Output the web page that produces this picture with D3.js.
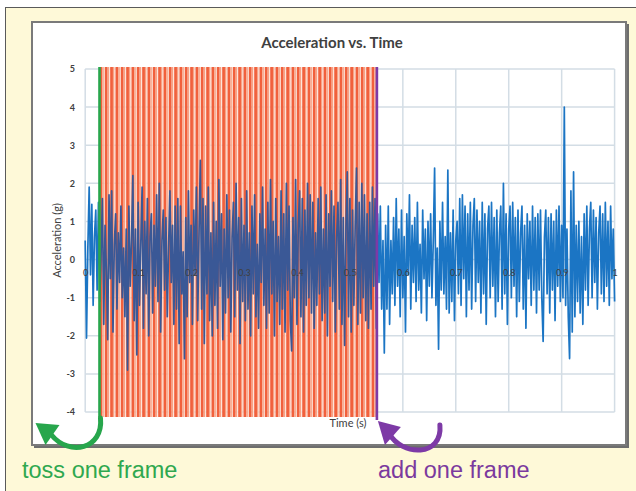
<!DOCTYPE html>
<html><head><meta charset="utf-8">
<script src="https://cdn.jsdelivr.net/npm/d3@7"></script>
<style>
html,body{margin:0;padding:0;background:#fff;}
svg{display:block;}
</style></head>
<body>
<svg id="chart" width="636" height="491"></svg>
<script>
// ---------- data ----------
const sampleInterval = 0.0025; // s
const acceleration = [
 0.5,-2.06,0.3,1.9,-0.4,1.45,-1.2,0.6,1.3,-0.8,1.5,-1.1,0.2,1.6,-1.7,0.9,-0.3,-2.1,1.7,-0.5,
 1.8,-1.9,0.4,1.2,-1.3,0.7,-0.6,1.4,-1.0,0.3,-1.5,0.8,-2.9,1.4,-0.7,0.5,2.2,-1.6,0.8,-2.5,
 1.5,-1.2,0.4,1.9,-1.8,1.0,-0.9,1.6,-2.0,0.6,1.2,-1.4,0.9,-0.7,1.7,-1.1,2.0,-1.9,0.5,1.3,
 -0.8,1.1,-1.5,0.3,1.8,-0.6,0.9,-1.7,1.4,-1.3,1.6,-2.2,1.4,-0.9,0.2,-2.6,1.1,-1.5,1.8,-0.6,
 0.9,-1.7,1.3,-0.4,1.9,-1.6,0.7,2.6,-1.3,1.6,-2.2,1.4,-0.9,1.9,-1.6,0.7,-2.0,1.5,-1.2,1.0,
 -1.8,2.1,-0.7,1.2,-2.1,0.8,-1.4,1.7,-1.0,1.3,-1.9,0.6,1.5,-1.5,2.0,-0.8,1.1,-2.2,1.6,-1.1,
 0.9,-1.6,1.8,-1.3,0.7,-2.0,1.4,-0.9,1.7,-1.5,0.4,-1.8,1.2,-0.6,1.9,-1.2,0.8,-1.8,1.5,-1.4,
 2.1,-0.9,1.0,-2.0,1.6,-1.1,0.6,-1.7,1.8,-1.3,1.2,-1.9,2.0,-0.8,1.4,-1.6,-2.4,1.1,-1.0,2.1,
 -1.7,0.9,1.8,-1.5,1.6,-1.9,1.3,-1.2,2.0,-1.0,1.7,-1.4,1.5,-1.8,0.7,-1.2,1.6,-0.9,1.9,-1.6,
 0.8,-1.4,1.7,-2.0,1.2,-0.7,1.8,-1.1,1.4,-1.9,0.6,1.5,-1.3,2.1,-1.7,1.1,-2.25,0.8,2.3,-1.5,
 1.6,-1.9,1.3,-1.2,0.9,2.4,-1.7,1.5,-1.4,2.0,-1.0,1.7,-1.6,1.2,-1.8,1.5,-1.3,1.9,-0.7,1.6,
 -1.8,1.2,-0.6,1.4,-1.3,0.5,-2.45,0.9,-1.3,1.4,-1.7,0.5,-0.9,1.1,-1.2,1.6,-0.7,0.8,-1.5,1.3,
 -1.0,0.6,-1.9,1.2,-0.4,1.7,-1.3,0.9,-0.6,1.1,-1.1,1.5,-0.8,0.4,-1.4,1.3,-0.5,0.8,-1.6,1.0,
 -0.7,1.2,-1.0,0.5,2.4,-1.2,0.3,-2.35,1.0,-0.8,1.5,-0.9,0.6,-1.3,2.35,-1.4,0.7,-1.1,1.3,-1.6,
 0.5,1.0,-0.9,1.6,-1.2,1.7,-0.5,1.4,-1.5,1.2,-0.8,1.5,-1.3,0.9,1.6,-1.1,1.3,-0.6,1.0,-1.4,
 1.5,-0.9,1.2,-1.7,0.8,1.4,-1.0,1.5,-0.7,1.1,-1.5,1.3,-1.1,0.7,1.4,-1.3,2.0,-0.9,1.2,-1.7,
 0.8,1.4,-1.0,1.5,-0.7,1.1,-1.5,1.3,-1.1,0.7,1.4,-1.3,0.9,-1.8,1.2,-0.5,1.0,-1.2,1.4,-0.8,
 1.1,-1.4,1.2,-0.8,1.3,-1.0,-2.15,0.6,1.3,-0.9,1.1,-1.4,1.2,-0.8,1.0,-1.6,1.3,-0.7,1.4,-1.1,
 0.9,-1.0,4.0,-1.2,0.8,-1.5,-2.6,1.8,-1.9,2.3,-1.5,0.9,-1.1,1.0,-1.4,0.6,-1.7,1.2,-0.8,1.4,
 -1.2,0.8,1.5,-1.0,1.3,-0.6,1.1,-1.3,0.7,1.4,-0.9,1.2,-1.1,1.5,-0.7,1.0,-1.2,1.4,-0.5,0.8,
 -1.1
];
const yTicks = [-4,-3,-2,-1,0,1,2,3,4,5];
const xTicks = [0,0.1,0.2,0.3,0.4,0.5,0.6,0.7,0.8,0.9,1];
const tossTime = 0.027;   // frame removed
const addTime = 0.551;    // frame added
const frameCount = 52;    // frames shown in window
const titleText = "Acceleration vs. Time";
const xLabel = "Time (s)";
const yLabel = "Acceleration (g)";
const tossLabel = "toss one frame";
const addLabel = "add one frame";

// ---------- layout ----------
const svg = d3.select("#chart");
const x = d3.scaleLinear().domain([0,1]).range([85.2,614.6]);
const y = d3.scaleLinear().domain([-4,5]).range([412,69]);
const font = "Lato, 'Open Sans', sans-serif";

// page background
svg.append("rect").attr("x",5.5).attr("y",7.5).attr("width",640).attr("height",500)
  .attr("fill","#fef9d8").attr("stroke","#5a5a5a").attr("stroke-width",1);

// chart box with shadow
svg.append("rect").attr("x",34).attr("y",24).attr("width",595).attr("height",424).attr("fill","#6e6e6e");
svg.append("rect").attr("x",32).attr("y",22).attr("width",594).attr("height",423)
  .attr("fill","#ffffff").attr("stroke","#7a7a7a").attr("stroke-width",2);

// grid
const grid = svg.append("g");
grid.selectAll("line.h").data(yTicks).join("line")
  .attr("x1",x(0)).attr("x2",x(1)).attr("y1",d=>y(d)).attr("y2",d=>y(d))
  .attr("stroke","#d3dde5").attr("stroke-width",1.5);
grid.selectAll("line.v").data(xTicks).join("line")
  .attr("x1",d=>x(d)).attr("x2",d=>x(d)).attr("y1",y(5)).attr("y2",y(-4))
  .attr("stroke","#d3dde5").attr("stroke-width",1.5);

// frame stripes
const frameW = (addTime - tossTime)/frameCount;
const frames = d3.range(frameCount).map(i => tossTime + i*frameW);
const stripeTop = y(5)-2, stripeBot = y(-4)+5;
const sg = svg.append("g");
frames.forEach(f => {
  const x0 = x(f), w = x(f+frameW)-x(f);
  sg.append("rect").attr("x",x0).attr("y",stripeTop).attr("width",w*0.52).attr("height",stripeBot-stripeTop).attr("fill","#f1603c");
  sg.append("rect").attr("x",x0+w*0.52).attr("y",stripeTop).attr("width",w*0.3).attr("height",stripeBot-stripeTop).attr("fill","#f8a386");
  sg.append("rect").attr("x",x0+w*0.82).attr("y",stripeTop).attr("width",w*0.18).attr("height",stripeBot-stripeTop).attr("fill","#fde3d8");
});

// data line
const pts = acceleration.map((v,i)=>[i*sampleInterval, v]);
const line = d3.line().x(d=>x(d[0])).y(d=>y(d[1]));
const defs = svg.append("defs");
defs.append("clipPath").attr("id","inRed").append("rect")
  .attr("x",x(tossTime)).attr("y",0).attr("width",x(addTime)-x(tossTime)).attr("height",491);
const outClip = defs.append("clipPath").attr("id","outRed");
outClip.append("rect").attr("x",0).attr("y",0).attr("width",x(tossTime)).attr("height",491);
outClip.append("rect").attr("x",x(addTime)).attr("y",0).attr("width",636-x(addTime)).attr("height",491);

svg.append("path").datum(pts).attr("d",line).attr("fill","none")
  .attr("stroke","#1b75c4").attr("stroke-width",1.7).attr("stroke-linejoin","round")
  .attr("clip-path","url(#outRed)");
svg.append("path").datum(pts).attr("d",line).attr("fill","none")
  .attr("stroke","#3a5896").attr("stroke-width",1.7).attr("stroke-linejoin","round")
  .attr("clip-path","url(#inRed)");

// axes labels
const yAxis = d3.axisLeft(y).tickValues(yTicks).tickSize(0).tickPadding(0).tickFormat(d => String(d));
const yg = svg.append("g").attr("transform",`translate(75,0)`).call(yAxis);
yg.select(".domain").remove();
yg.selectAll("text").attr("font-family",font).attr("font-size",9).attr("fill","#404040").attr("font-weight","bold");

const xAxis = d3.axisBottom(x).tickValues(xTicks).tickSize(0).tickPadding(10).tickFormat(d3.format("~g"));
const xg = svg.append("g").attr("transform",`translate(0,${y(0)})`).call(xAxis);
xg.select(".domain").remove();
xg.selectAll("text").attr("font-family",font).attr("font-size",9).attr("fill","#404040");

// titles
svg.append("text").attr("x",332).attr("y",48).attr("text-anchor","middle")
  .attr("font-family",font).attr("font-weight","bold").attr("font-size",15).attr("fill","#404040").text(titleText);
svg.append("text").attr("x",348).attr("y",427).attr("text-anchor","middle")
  .attr("font-family",font).attr("font-size",11).attr("fill","#404040").text(xLabel);
svg.append("text").attr("transform",`translate(61,${(y(5)+y(-4))/2}) rotate(-90)`).attr("text-anchor","middle")
  .attr("font-family",font).attr("font-size",11).attr("fill","#404040").text(yLabel);

// marker lines
const green = "#27a64c", purple = "#7d3aa6";
svg.append("line").attr("x1",x(tossTime)).attr("x2",x(tossTime)).attr("y1",stripeTop).attr("y2",stripeBot)
  .attr("stroke",green).attr("stroke-width",2.6);
svg.append("line").attr("x1",x(addTime)).attr("x2",x(addTime)).attr("y1",stripeTop).attr("y2",stripeBot+3)
  .attr("stroke",purple).attr("stroke-width",2.6);

// curved arrows
function arrow(pathD, head, color){
  svg.append("path").attr("d",pathD).attr("fill","none").attr("stroke",color)
    .attr("stroke-width",5).attr("stroke-linecap","round");
  svg.append("path").attr("d",head).attr("fill",color);
}
const gx = x(tossTime);
arrow(`M${gx+1},${stripeBot+1} C${gx+4},${stripeBot+32} ${gx-30},${stripeBot+40} ${gx-48},${stripeBot+18}`,
      `M${gx-64},${stripeBot+6} L${gx-40},${stripeBot+8} L${gx-54},${stripeBot+28} Z`, green);
const px = x(addTime);
arrow(`M${px+63},${stripeBot+8} C${px+66},${stripeBot+40} ${px+25},${stripeBot+40} ${px+12},${stripeBot+16}`,
      `M${px+1},${stripeBot+4} L${px+24},${stripeBot+10} L${px+8},${stripeBot+28} Z`, purple);

// annotation texts
svg.append("text").attr("x",22).attr("y",478).attr("font-family","'Liberation Sans', Arial, sans-serif")
  .attr("font-size",23.5).attr("fill","#2fa84f").text(tossLabel);
svg.append("text").attr("x",378).attr("y",478).attr("font-family","'Liberation Sans', Arial, sans-serif")
  .attr("font-size",23.5).attr("fill","#7b3a9e").text(addLabel);
</script>
</body></html>
